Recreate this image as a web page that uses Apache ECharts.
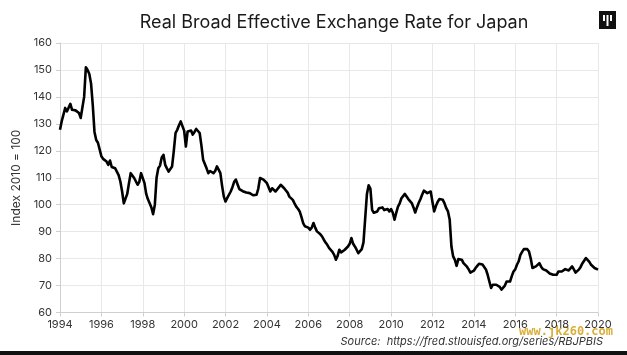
<!DOCTYPE html>
<html>
<head>
<meta charset="utf-8">
<script src="https://cdn.jsdelivr.net/npm/echarts@6/dist/echarts.min.js"></script>
<style>
html,body{margin:0;padding:0;background:#fff;}
#c{width:627px;height:355px;}
</style>
</head>
<body>
<div id="c"></div>
<script>
// Monthly Real Broad Effective Exchange Rate for Japan (Index 2010 = 100), Jan 1994 onwards
const startYear = 1994;
const rate = [
  // 1994
  127.8,131.0,133.4,135.9,134.6,134.0,137.4,135.2,135.5,135.0,135.5,134.0,
  // 1995
  132.2,132.5,140.0,151.0,150.0,148.5,145.0,137.0,127.0,124.0,123.0,122.8,
  // 1996
  118.0,117.0,116.7,116.0,114.8,116.4,114.0,113.6,113.5,113.4,111.0,108.6,
  // 1997
  105.0,100.5,101.0,104.0,108.0,111.7,111.0,109.9,109.9,107.4,108.5,111.7,
  // 1998
  111.7,108.0,104.0,102.0,100.5,99.0,96.5,100.0,110.0,113.5,114.5,117.5,
  // 1999
  118.5,114.8,113.5,112.3,113.0,114.2,120.0,126.6,127.8,129.5,130.9,131.0,
  // 2000
  127.5,121.6,127.2,126.6,127.5,126.0,127.0,128.1,127.8,126.6,122.0,116.7,
  // 2001
  116.1,113.5,111.7,112.5,113.0,111.7,112.5,114.2,113.0,111.7,107.0,103.0,
  // 2002
  101.2,102.5,102.5,104.9,106.5,108.5,109.3,107.5,105.8,105.5,105.0,104.9,
  // 2003
  104.5,104.3,104.3,103.8,103.5,103.0,103.7,106.0,109.9,109.5,109.3,108.6,
  // 2004
  108.0,107.4,104.9,106.1,105.5,104.9,105.5,106.5,107.4,106.8,106.1,105.5,
  // 2005
  104.5,103.0,102.5,101.8,100.5,99.3,98.5,97.5,95.5,93.2,92.0,91.3,
  // 2006
  91.5,90.7,91.5,93.2,91.5,90.1,89.5,89.0,88.2,87.0,86.0,85.1,
  // 2007
  84.0,83.3,82.5,81.4,79.6,81.0,83.3,82.3,82.3,83.2,83.9,84.5,
  // 2008
  85.5,87.6,85.5,84.5,83.3,82.0,82.0,83.5,86.0,95.0,104.0,107.2,
  // 2009
  106.0,98.1,97.0,96.8,97.5,98.7,98.5,99.0,98.0,97.5,98.4,97.5,
  // 2010
  98.4,97.0,94.4,97.0,99.3,100.5,102.4,103.2,104.0,103.5,102.1,101.5,
  // 2011
  100.6,99.0,97.1,99.0,100.6,102.0,103.7,105.2,105.8,104.3,104.5,104.9,
  // 2012
  101.0,97.5,99.5,101.0,102.1,102.0,101.8,100.5,98.7,97.5,94.4,84.5,
  // 2013
  80.8,79.5,77.3,79.8,79.6,79.6,78.3,77.7,77.0,76.0,74.8,74.8,
  // 2014
  75.5,76.5,77.3,78.1,78.0,77.8,77.3,76.0,74.0,71.5,69.1,70.3,
  // 2015
  70.0,70.3,70.3,69.5,68.5,68.0,70.0,71.5,71.5,71.5,73.5,75.2,
  // 2016
  76.0,77.7,79.0,81.4,82.5,83.5,84.2,83.5,82.6,80.0,76.5,76.0,
  // 2017
  77.1,77.5,78.3,77.0,76.1,76.0,75.6,75.0,74.5,74.3,74.0,73.7,
  // 2018
  74.0,75.2,75.5,75.2,75.5,76.1,75.8,75.6,76.0,77.1,76.0,74.8,
  // 2019
  74.8,76.0,77.0,78.3,79.0,80.2,79.5,78.8,77.7,77.0,76.5,76.1,
  // 2020
  75.9
];
const xTicks = [1994,1996,1998,2000,2002,2004,2006,2008,2010,2012,2014,2016,2018,2020];
const yTicks = [60,70,80,90,100,110,120,130,140,150,160];
const titleText = 'Real Broad Effective Exchange Rate for Japan';
const yAxisName = 'Index 2010 = 100';
const sourceText = 'Source:  https://fred.stlouisfed.org/series/RBJPBIS';

const seriesData = rate.map((v, i) => [startYear + i / 12, v]);

const chart = echarts.init(document.getElementById('c'), null, {renderer: 'canvas'});
const font = 'Inter, "Noto Sans", sans-serif';
chart.setOption({
  animation: false,
  backgroundColor: '#fff',
  title: {
    text: titleText,
    left: 329, top: 9, textAlign: 'center',
    textStyle: {fontFamily: font, fontSize: 18, fontWeight: 'normal', color: '#1a1a1a'}
  },
  grid: {left: 60, right: 29, top: 43, bottom: 42.5, containLabel: false},
  xAxis: {
    type: 'value',
    min: xTicks[0], max: xTicks[xTicks.length - 1], interval: 2,
    axisLine: {show: true, lineStyle: {color: '#cfcfcf', width: 1}},
    axisTick: {show: true, length: 4, lineStyle: {color: '#cfcfcf'}},
    axisLabel: {formatter: v => String(v), color: '#333', fontFamily: font, fontSize: 11, margin: 7},
    splitLine: {show: true, lineStyle: {color: '#e8e8e8', width: 1}}
  },
  yAxis: {
    type: 'value',
    min: yTicks[0], max: yTicks[yTicks.length - 1], interval: 10,
    name: yAxisName, nameLocation: 'middle', nameGap: 30, nameRotate: 90,
    nameTextStyle: {color: '#333', fontFamily: font, fontSize: 12},
    axisLine: {show: true, lineStyle: {color: '#cfcfcf', width: 1}},
    axisTick: {show: true, length: 4, lineStyle: {color: '#cfcfcf'}},
    axisLabel: {color: '#333', fontFamily: font, fontSize: 11, margin: 8},
    splitLine: {show: true, lineStyle: {color: '#e8e8e8', width: 1}}
  },
  series: [{
    type: 'line',
    data: seriesData,
    showSymbol: false,
    lineStyle: {color: '#000', width: 2.6, join: 'round'},
    z: 5
  }],
  graphic: [
    {type: 'rect', left: 599, top: 11, shape: {width: 17, height: 18}, style: {fill: '#111'}},
    {type: 'rect', left: 603, top: 15, shape: {width: 2, height: 6}, style: {fill: '#fff'}},
    {type: 'rect', left: 606.5, top: 15, shape: {width: 2, height: 11}, style: {fill: '#fff'}},
    {type: 'rect', left: 610, top: 15, shape: {width: 2, height: 6}, style: {fill: '#fff'}},
    {type: 'text', right: 24, top: 336, style: {text: sourceText, fill: '#333', font: 'italic 11px ' + font}},
    {type: 'text', right: 14, top: 326, style: {text: 'www.jk260.com', fill: '#d4a017', font: 'bold 12px "DejaVu Sans Mono", monospace', opacity: 0.85}},
    {type: 'rect', left: 0, top: 351, shape: {width: 627, height: 4}, style: {fill: '#111'}}
  ]
});
</script>
</body>
</html>
